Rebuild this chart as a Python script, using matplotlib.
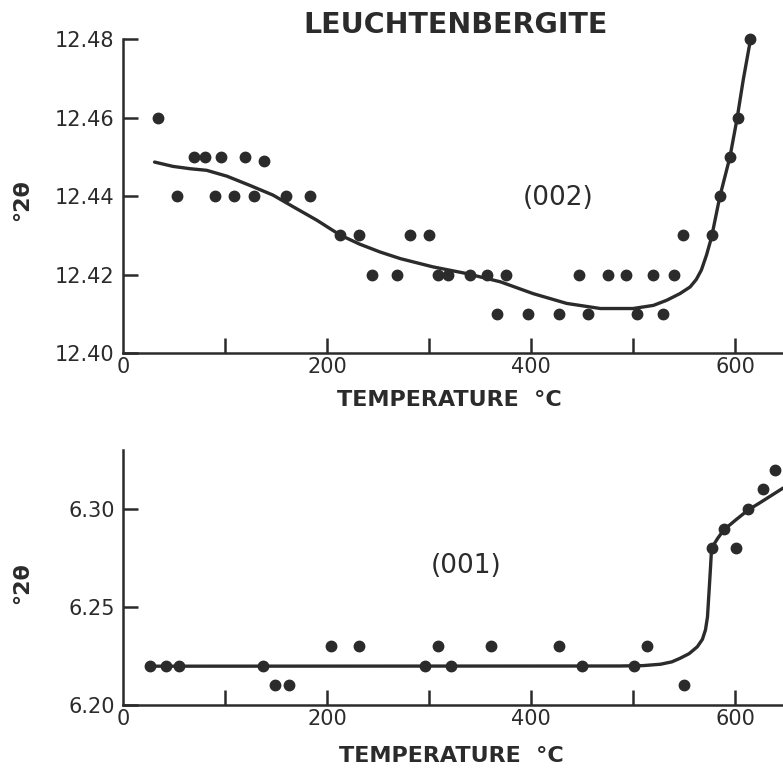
import matplotlib
matplotlib.use("Agg")
import matplotlib.pyplot as plt

plt.rcParams['font.family'] = ['DejaVu Sans']
ink = '#2b2b2b'

# (002) reflection: measured points
t002 = [34, 53, 70, 80, 96, 90, 109, 120, 128, 138, 160, 183, 213, 231, 244, 269,
        281, 300, 309, 319, 340, 357, 375, 367, 397, 427, 447, 456, 475, 493,
        504, 520, 529, 540, 549, 577, 585, 595, 603, 615]
v002 = [12.46, 12.44, 12.45, 12.45, 12.45, 12.44, 12.44, 12.45, 12.44, 12.449, 12.44, 12.44,
        12.43, 12.43, 12.42, 12.42, 12.43, 12.43, 12.42, 12.42, 12.42, 12.42, 12.42,
        12.41, 12.41, 12.41, 12.42, 12.41, 12.42, 12.42, 12.41, 12.42, 12.41, 12.42,
        12.43, 12.43, 12.44, 12.45, 12.46, 12.48]
# (002) hand-drawn fit curve
c002_t = [31, 49, 66, 82, 102, 124, 147, 167, 190, 213, 232, 252, 272, 304, 337, 370,
          402, 435, 468, 500, 520, 533, 546, 556, 562, 567, 572, 577, 585, 595, 602,
          608, 615]
c002_v = [12.4487, 12.4476, 12.4470, 12.4466, 12.4451, 12.4428, 12.4403, 12.4373,
          12.4339, 12.4301, 12.4278, 12.4258, 12.4241, 12.4220, 12.4203, 12.4182,
          12.4152, 12.4127, 12.4114, 12.4114, 12.4122, 12.4135, 12.4152, 12.4169,
          12.4188, 12.4212, 12.4250, 12.4296, 12.4398, 12.4500, 12.4598, 12.4696,
          12.4797]

# (001) reflection: measured points
t001 = [27, 42, 55, 137, 149, 163, 204, 231, 296, 309, 322, 361, 427, 450, 501,
        514, 550, 577, 589, 601, 613, 627, 639]
v001 = [6.22, 6.22, 6.22, 6.22, 6.21, 6.21, 6.23, 6.23, 6.22, 6.23, 6.22, 6.23, 6.23,
        6.22, 6.22, 6.23, 6.21, 6.28, 6.29, 6.28, 6.30, 6.31, 6.32]
# (001) fit curve
c001_t = [27, 487, 510, 527, 538, 546, 555, 563, 568, 571, 573, 574, 575, 576, 577,
          583, 589, 601, 613, 624, 634, 647]
c001_v = [6.2198, 6.2199, 6.2201, 6.2208, 6.2220, 6.2238, 6.2262, 6.2297, 6.2335,
          6.2383, 6.2450, 6.2536, 6.2620, 6.2706, 6.2800, 6.2850, 6.2893, 6.2945,
          6.2995, 6.3030, 6.3063, 6.3106]

fig = plt.figure(figsize=(7.83, 7.68), dpi=100)
ax1 = fig.add_axes([0.157, 0.540, 0.843, 0.409])
ax2 = fig.add_axes([0.157, 0.082, 0.843, 0.332])


def style(ax, ylim, yticks, ylabels):
    ax.set_xlim(0, 647)
    ax.set_ylim(*ylim)
    for s in ['top', 'right']:
        ax.spines[s].set_visible(False)
    for s in ['left', 'bottom']:
        ax.spines[s].set_linewidth(1.8)
        ax.spines[s].set_color(ink)
    ax.set_xticks([0, 200, 400, 600])
    ax.set_xticklabels(['0', '200', '400', '600'])
    ax.set_xticks([100, 300, 500], minor=True)
    ax.set_yticks(yticks)
    ax.set_yticklabels(ylabels)
    ax.tick_params(axis='both', which='both', direction='in', length=11, width=1.8,
                   color=ink, labelcolor=ink, labelsize=15)
    ax.tick_params(axis='x', pad=3)
    ax.tick_params(axis='y', pad=6)
    ax.set_xlabel('TEMPERATURE  °C', fontsize=16, fontweight='bold', color=ink)
    ax.set_ylabel('°2θ', fontsize=16, fontweight='bold', color=ink)


style(ax1, (12.40, 12.48), [12.40, 12.42, 12.44, 12.46, 12.48],
      ['12.40', '12.42', '12.44', '12.46', '12.48'])
style(ax2, (6.20, 6.33), [6.20, 6.25, 6.30], ['6.20', '6.25', '6.30'])
ax1.xaxis.get_major_ticks()[0].tick1line.set_visible(False)
ax2.xaxis.get_major_ticks()[0].tick1line.set_visible(False)
ax1.xaxis.set_label_coords(0.495, -0.118)
ax2.xaxis.set_label_coords(0.498, -0.161)
ax1.yaxis.set_label_coords(-0.138, 0.487)
ax2.yaxis.set_label_coords(-0.138, 0.478)

ax1.plot(c002_t, c002_v, color=ink, lw=2.4, solid_capstyle='round',
         solid_joinstyle='round', clip_on=False)
ax1.plot(t002, v002, 'o', color=ink, ms=7.5, clip_on=False)
ax2.plot(c001_t, c001_v, color=ink, lw=2.4, solid_capstyle='round',
         solid_joinstyle='round', clip_on=False)
ax2.plot(t001, v001, 'o', color=ink, ms=7.5, clip_on=False)

ax1.text(427, 12.4396, '(002)', fontsize=19, color=ink, ha='center', va='center')
ax2.text(336, 6.2709, '(001)', fontsize=19, color=ink, ha='center', va='center')
fig.text(0.582, 0.967, 'LEUCHTENBERGITE', fontsize=20.5, fontweight='bold', color=ink,
         ha='center', va='center')

fig.savefig('out.png', dpi=100, facecolor='white')
